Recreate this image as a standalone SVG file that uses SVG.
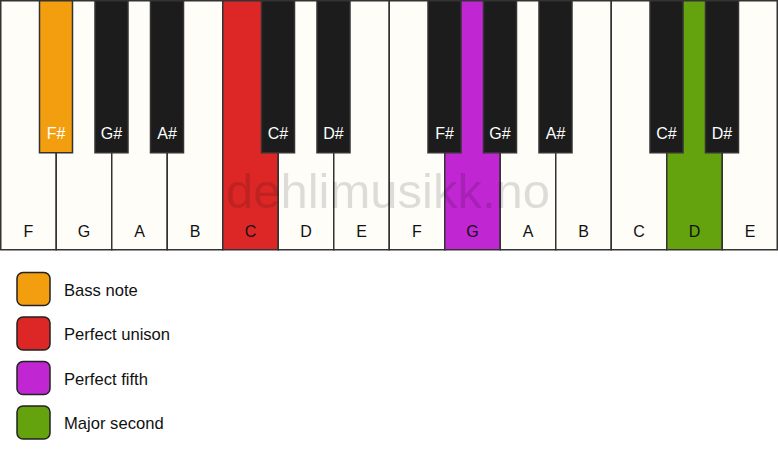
<svg xmlns="http://www.w3.org/2000/svg" width="778" height="461" viewBox="0 0 778 461">
<style>
.w{fill:#FFFDF8;stroke:#333;stroke-width:1.5}
.b{fill:#1C1C1C;stroke:#333;stroke-width:1.5}
.lw{font-family:"Liberation Sans",Arial,sans-serif;font-size:16px;fill:#111;text-anchor:middle}
.lb{font-family:"Liberation Sans",Arial,sans-serif;font-size:16px;fill:#fff;text-anchor:middle}
.lg{font-family:"Liberation Sans",Arial,sans-serif;font-size:16.6px;fill:#111}
.sw{stroke:#222;stroke-width:1.5}
.wm{font-family:"Liberation Sans",Arial,sans-serif;font-size:49px;fill:#000;fill-opacity:0.13;text-anchor:middle}
</style>
<rect width="778" height="461" fill="#fff"/>
<g id="white-keys">
<g id="wk0"><rect class="w" x="0.75" y="0.75" width="55.5" height="249"/><text class="lw" x="28.5" y="237">F</text></g>
<g id="wk1"><rect class="w" x="56.25" y="0.75" width="55.5" height="249"/><text class="lw" x="84" y="237">G</text></g>
<g id="wk2"><rect class="w" x="111.75" y="0.75" width="55.5" height="249"/><text class="lw" x="139.5" y="237">A</text></g>
<g id="wk3"><rect class="w" x="167.25" y="0.75" width="55.5" height="249"/><text class="lw" x="195" y="237">B</text></g>
<g id="wk4"><rect class="w" x="222.75" y="0.75" width="55.5" height="249" style="fill:#DD2727"/><text class="lw" x="250.5" y="237">C</text></g>
<g id="wk5"><rect class="w" x="278.25" y="0.75" width="55.5" height="249"/><text class="lw" x="306" y="237">D</text></g>
<g id="wk6"><rect class="w" x="333.75" y="0.75" width="55.5" height="249"/><text class="lw" x="361.5" y="237">E</text></g>
<g id="wk7"><rect class="w" x="389.25" y="0.75" width="55.5" height="249"/><text class="lw" x="417" y="237">F</text></g>
<g id="wk8"><rect class="w" x="444.75" y="0.75" width="55.5" height="249" style="fill:#C027D2"/><text class="lw" x="472.5" y="237">G</text></g>
<g id="wk9"><rect class="w" x="500.25" y="0.75" width="55.5" height="249"/><text class="lw" x="528" y="237">A</text></g>
<g id="wk10"><rect class="w" x="555.75" y="0.75" width="55.5" height="249"/><text class="lw" x="583.5" y="237">B</text></g>
<g id="wk11"><rect class="w" x="611.25" y="0.75" width="55.5" height="249"/><text class="lw" x="639" y="237">C</text></g>
<g id="wk12"><rect class="w" x="666.75" y="0.75" width="55.5" height="249" style="fill:#64A30E"/><text class="lw" x="694.5" y="237">D</text></g>
<g id="wk13"><rect class="w" x="722.25" y="0.75" width="55" height="249"/><text class="lw" x="750" y="237">E</text></g>
</g>
<text class="wm" x="388" y="208">dehlimusikk.no</text>
<g id="black-keys">
<g id="bk0"><rect class="b" x="39.5" y="0.75" width="33" height="152" style="fill:#F39E0F"/><text class="lb" x="56" y="139">F#</text></g>
<g id="bk1"><rect class="b" x="95" y="0.75" width="33" height="152"/><text class="lb" x="111.5" y="139">G#</text></g>
<g id="bk2"><rect class="b" x="150.5" y="0.75" width="33" height="152"/><text class="lb" x="167" y="139">A#</text></g>
<g id="bk3"><rect class="b" x="261.5" y="0.75" width="33" height="152"/><text class="lb" x="278" y="139">C#</text></g>
<g id="bk4"><rect class="b" x="317" y="0.75" width="33" height="152"/><text class="lb" x="333.5" y="139">D#</text></g>
<g id="bk5"><rect class="b" x="428" y="0.75" width="33" height="152"/><text class="lb" x="444.5" y="139">F#</text></g>
<g id="bk6"><rect class="b" x="483.5" y="0.75" width="33" height="152"/><text class="lb" x="500" y="139">G#</text></g>
<g id="bk7"><rect class="b" x="539" y="0.75" width="33" height="152"/><text class="lb" x="555.5" y="139">A#</text></g>
<g id="bk8"><rect class="b" x="650" y="0.75" width="33" height="152"/><text class="lb" x="666.5" y="139">C#</text></g>
<g id="bk9"><rect class="b" x="705.5" y="0.75" width="33" height="152"/><text class="lb" x="722" y="139">D#</text></g>
</g>
<g id="legend">
<g id="lg-bass"><rect class="sw" x="17" y="272.5" width="33" height="33" rx="6" fill="#F39E0F"/><text class="lg" x="64" y="295.5">Bass note</text></g>
<g id="lg-unison"><rect class="sw" x="17" y="317" width="33" height="33" rx="6" fill="#DD2727"/><text class="lg" x="64" y="340">Perfect unison</text></g>
<g id="lg-fifth"><rect class="sw" x="17" y="361.5" width="33" height="33" rx="6" fill="#C027D2"/><text class="lg" x="64" y="384.5">Perfect fifth</text></g>
<g id="lg-second"><rect class="sw" x="17" y="406" width="33" height="33" rx="6" fill="#64A30E"/><text class="lg" x="64" y="429">Major second</text></g>
</g>
<g id="connectors"/>
</svg>
